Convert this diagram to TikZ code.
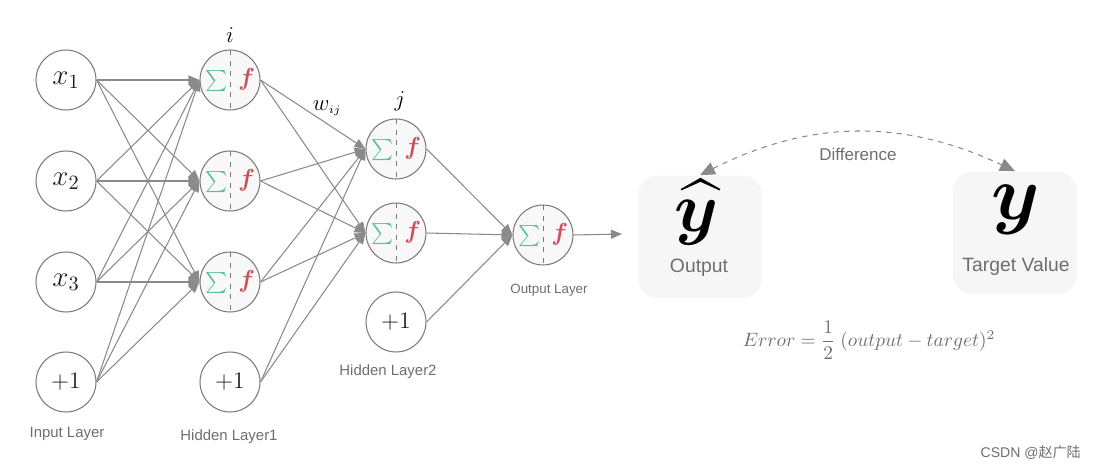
\RequirePackage{fix-cm}
\documentclass[tikz,border=0pt]{standalone}
\usepackage{amsmath,amssymb,bm}
\usepackage{fontspec}
\setsansfont{Liberation Sans}
\newfontfamily\cjkfont{Noto Sans CJK SC}
\usepackage{tikz}
\usetikzlibrary{arrows.meta}
\definecolor{ink}{HTML}{1E1E1E}
\definecolor{edge}{HTML}{7A7A7A}
\definecolor{wire}{HTML}{8A8A8A}
\definecolor{labelgray}{HTML}{6E6E6E}
\definecolor{cellfill}{HTML}{F8F8F8}
\definecolor{boxfill}{HTML}{F6F6F6}
\definecolor{sumgreen}{HTML}{5DBE9A}
\definecolor{actred}{HTML}{C8535B}
\tikzset{
  >={Triangle[length=2.2mm,width=1.8mm]},
  unit/.style={circle,draw=edge,line width=.6pt,minimum size=1.2cm,inner sep=0pt,fill=white,
    text=ink,font=\fontsize{16.5}{18}\selectfont},
  neuron/.style={unit,fill=cellfill,font=\fontsize{12}{14}\selectfont,
    path picture={\draw[edge,dashed,line width=.5pt] (path picture bounding box.north) -- (path picture bounding box.south);}},
  bias/.style={unit,font=\fontsize{13.5}{15}\selectfont},
  link/.style={->,draw=wire,line width=.6pt},
  layer/.style={font=\sffamily\fontsize{8.5}{10}\selectfont,text=labelgray},
  result/.style={rounded corners=4mm,fill=boxfill,minimum width=2.48cm,minimum height=2.46cm},
  caption/.style={font=\sffamily\fontsize{11}{13}\selectfont,text=labelgray},
  bigsym/.style={font=\fontsize{44}{48}\selectfont,text=black,inner sep=0pt},
  diffarrow/.style={<->,>={Triangle[length=3mm,width=2.6mm]},draw=wire,dashed,line width=.6pt},
}
\newcommand{\sumact}{\textcolor{sumgreen}{$\textstyle\sum$}\hspace{2.2mm}\textcolor{actred}{\fontsize{14}{16}\selectfont$\bm{f}$}}

\begin{document}
\begin{tikzpicture}[x=0.02cm,y=-0.02cm]
  \useasboundingbox (0,0) rectangle (1100,470);

  % input layer
  \node[unit] (in1) at (66,80) {$x_1$};
  \node[unit] (in2) at (66,181) {$x_2$};
  \node[unit] (in3) at (66,282) {$x_3$};
  \node[bias] (inb) at (66,382) {$+1$};
  \node[layer] (inlbl) at (67,434) {Input Layer};

  % hidden layer 1
  \node[neuron] (ha1) at (230,80) {\sumact};
  \node[neuron] (ha2) at (230,181) {\sumact};
  \node[neuron] (ha3) at (230,282) {\sumact};
  \node[bias] (hab) at (230,382) {$+1$};
  \node[layer] (halbl) at (229,437) {Hidden Layer1};
  \node[font=\fontsize{13}{15}\selectfont] (ilbl) at (230,35) {$i$};

  % hidden layer 2
  \node[neuron] (hb1) at (396,149) {\sumact};
  \node[neuron] (hb2) at (396,233) {\sumact};
  \node[bias] (hbb) at (396,322) {$+1$};
  \node[layer] (hblbl) at (388,372) {Hidden Layer2};
  \node[font=\fontsize{13}{15}\selectfont] (jlbl) at (400,101) {$j$};
  \node[font=\fontsize{13}{15}\selectfont] (wlbl) at (327,108) {$w_{\scriptscriptstyle ij}$};

  % output neuron
  \node[neuron] (out) at (543,235) {\sumact};
  \node[layer,font=\sffamily\fontsize{7.6}{9}\selectfont] (outlbl) at (549,290) {Output Layer};
  \coordinate (outend) at (622,234);

  % connections
  \foreach \s in {in1,in2,in3,inb}
    \foreach \t in {ha1,ha2,ha3}
      \draw[link] (\s.east) -- (\t.west);
  \foreach \s in {ha1,ha2,ha3,hab}
    \foreach \t in {hb1,hb2}
      \draw[link] (\s.east) -- (\t.west);
  \foreach \s in {hb1,hb2,hbb}
    \draw[link] (\s.east) -- (out.west);
  \draw[link] (out.east) -- (outend);

  % output vs target
  \node[result] (yhatbox) at (700,237) {};
  \node[bigsym,font=\fontsize{40}{44}\selectfont] (yhat) at (697,212) {$\bm{\widehat{y}}$};
  \node[caption] (yhatlbl) at (699,268) {Output};
  \node[result] (ybox) at (1015,233) {};
  \node[bigsym] (ytrue) at (1016,210) {$\bm{y}$};
  \node[caption] (ylbl) at (1016,267) {Target Value};
  \draw[diffarrow] (yhatbox.north) to[bend left=26] (ybox.north);
  \node[caption,font=\sffamily\fontsize{9.7}{12}\selectfont] (difflbl) at (858,154) {Difference};
  \node[text=labelgray,font=\fontsize{11}{13}\selectfont] (errlbl) at (869,340)
    {$Error=\dfrac{1}{2}\;(output-target)^2$};

  \node[text=labelgray,font=\sffamily\fontsize{8}{10}\selectfont,anchor=east] (mark) at (1087,453)
    {CSDN @{\cjkfont 赵广陆}};
\end{tikzpicture}
\end{document}
